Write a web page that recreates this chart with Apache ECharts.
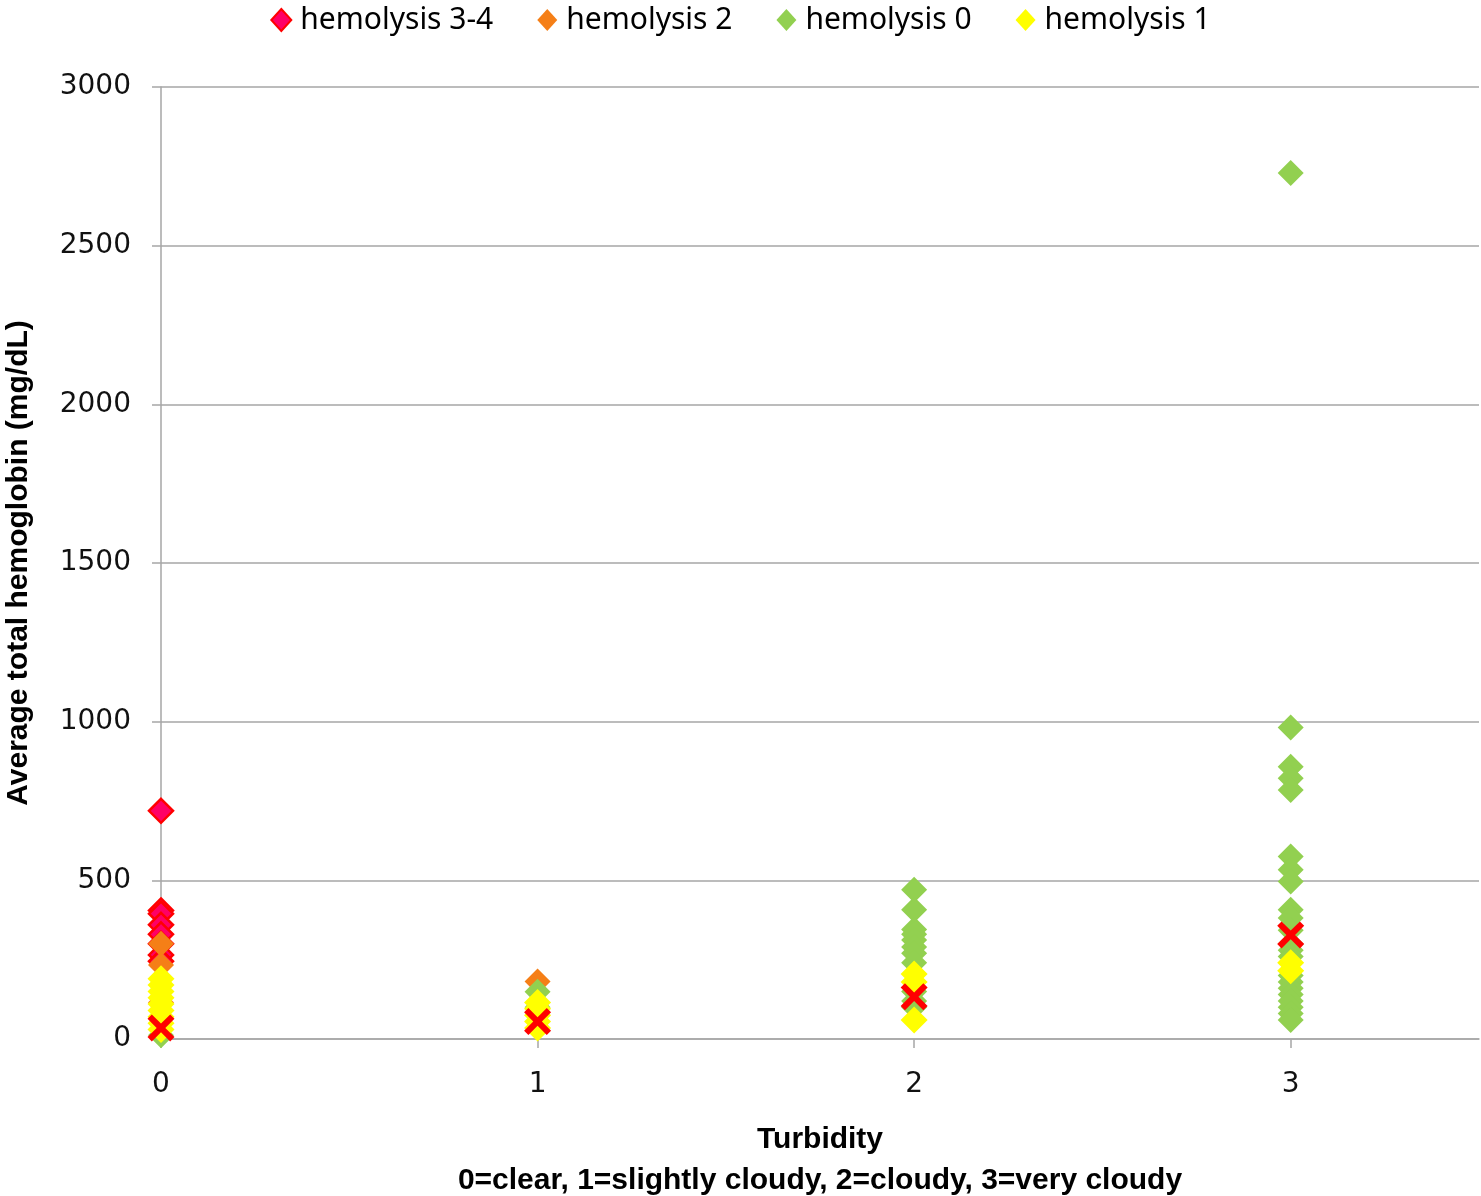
<!DOCTYPE html>
<html>
<head>
<meta charset="utf-8">
<script src="https://cdn.jsdelivr.net/npm/echarts@6/dist/echarts.min.js"></script>
<style>
html,body{margin:0;padding:0;background:#fff;}
#chart{width:1481px;height:1196px;}
</style>
</head>
<body>
<div id="chart"></div>
<script>
// Data
const seriesNames = ['hemolysis 3-4', 'hemolysis 2', 'hemolysis 0', 'hemolysis 1'];
const xTicks = [0, 1, 2, 3];
const yTicks = [0, 500, 1000, 1500, 2000, 2500, 3000];

// hemolysis 3-4 (x = turbidity, y = hemoglobin)
const hem34X = [0, 0, 0, 0, 0, 0, 0, 0];
const hem34Y = [719, 405, 395, 360, 330, 300, 265, 245];
// hemolysis 2
const hem2X = [0, 0, 0, 1];
const hem2Y = [300, 233, 115, 181];
// hemolysis 0
const hem0X = [0, 1, 1,
  2, 2, 2, 2, 2, 2, 2, 2, 2, 2, 2,
  3, 3, 3, 3, 3, 3, 3, 3, 3, 3, 3, 3, 3, 3, 3, 3, 3, 3, 3, 3, 3, 3];
const hem0Y = [12, 149, 100,
  470, 407, 345, 330, 312, 290, 270, 240, 150, 120, 100,
  2729, 982, 858, 822, 785, 575, 533, 496, 407, 381, 343, 300, 280, 260, 200, 180, 160, 140, 120, 100, 80, 60];
// hemolysis 1
const hem1X = [0, 0, 0, 0, 0, 0, 0, 0, 0, 1, 1, 1, 1, 1, 2, 2, 2, 3, 3];
const hem1Y = [190, 170, 150, 130, 110, 90, 70, 50, 30, 115, 95, 75, 55, 35, 205, 180, 60, 240, 215];
// red X markers (group averages, not in legend)
const meanX = [0, 1, 2, 3];
const meanY = [35, 55, 133, 328];

function pairs(xs, ys) { return xs.map((x, i) => [x, ys[i]]); }

const xPath = 'path://M0,1.6 L1.6,0 L5,3.4 L8.4,0 L10,1.6 L6.6,5 L10,8.4 L8.4,10 L5,6.6 L1.6,10 L0,8.4 L3.4,5 Z';

const chart = echarts.init(document.getElementById('chart'));
const gridColor = '#a6a6a6';
chart.setOption({
  animation: false,
  backgroundColor: '#ffffff',
  legend: {
    top: 0,
    left: 'center',
    data: seriesNames.map(n => ({ name: n, icon: 'diamond' })),
    itemWidth: 20,
    itemHeight: 22,
    itemGap: 44,
    textStyle: { fontFamily: 'Noto Sans', fontSize: 30, color: '#000', padding: [0, 0, 0, 4] }
  },
  grid: { left: 161, right: 2, top: 87, bottom: 157, containLabel: false, outerBoundsMode: 'none' },
  xAxis: {
    type: 'value',
    min: 0, max: 3.5, interval: 1,
    name: 'Turbidity\n0=clear, 1=slightly cloudy, 2=cloudy, 3=very cloudy',
    nameLocation: 'middle',
    nameGap: 80,
    nameTextStyle: { fontFamily: 'Liberation Sans', fontWeight: 'bold', fontSize: 30, lineHeight: 41, color: '#000' },
    axisLine: { show: true, onZero: false, lineStyle: { color: gridColor, width: 1.5 } },
    axisTick: { show: true, length: 9, customValues: xTicks, lineStyle: { color: gridColor, width: 1.5 } },
    axisLabel: { customValues: xTicks, margin: 32, fontFamily: 'DejaVu Sans', fontSize: 28, color: '#111',
      formatter: v => String(v) },
    splitLine: { show: false }
  },
  yAxis: {
    type: 'value',
    min: 0, max: 3000, interval: 500,
    name: 'Average total hemoglobin (mg/dL)',
    nameLocation: 'middle',
    nameGap: 127,
    nameTextStyle: { fontFamily: 'Liberation Sans', fontWeight: 'bold', fontSize: 30, color: '#000' },
    axisLine: { show: true, lineStyle: { color: gridColor, width: 1.5 } },
    axisTick: { show: true, length: 9, lineStyle: { color: gridColor, width: 1.5 } },
    axisLabel: { margin: 30, fontFamily: 'DejaVu Sans', fontSize: 28, color: '#111', customValues: yTicks,
      formatter: v => String(v) },
    splitLine: { show: true, lineStyle: { color: gridColor, width: 1.5 } }
  },
  series: [
    { name: seriesNames[0], type: 'scatter', symbol: 'diamond', symbolSize: 24,
      itemStyle: { color: '#ff0066', borderColor: '#ff0000', borderWidth: 2.5, opacity: 1 },
      data: pairs(hem34X, hem34Y) },
    { name: seriesNames[1], type: 'scatter', symbol: 'diamond', symbolSize: 26,
      itemStyle: { color: '#f57f17', opacity: 1 },
      data: pairs(hem2X, hem2Y) },
    { name: seriesNames[2], type: 'scatter', symbol: 'diamond', symbolSize: 26,
      itemStyle: { color: '#92d050', opacity: 1 },
      data: pairs(hem0X, hem0Y) },
    { name: seriesNames[3], type: 'scatter', symbol: 'diamond', symbolSize: 27,
      itemStyle: { color: '#ffff00', opacity: 1 },
      data: pairs(hem1X, hem1Y) },
    { name: 'mean', type: 'scatter', symbol: xPath, symbolSize: 27,
      itemStyle: { color: '#ff0000', opacity: 1 },
      data: pairs(meanX, meanY) }
  ]
});
</script>
</body>
</html>
